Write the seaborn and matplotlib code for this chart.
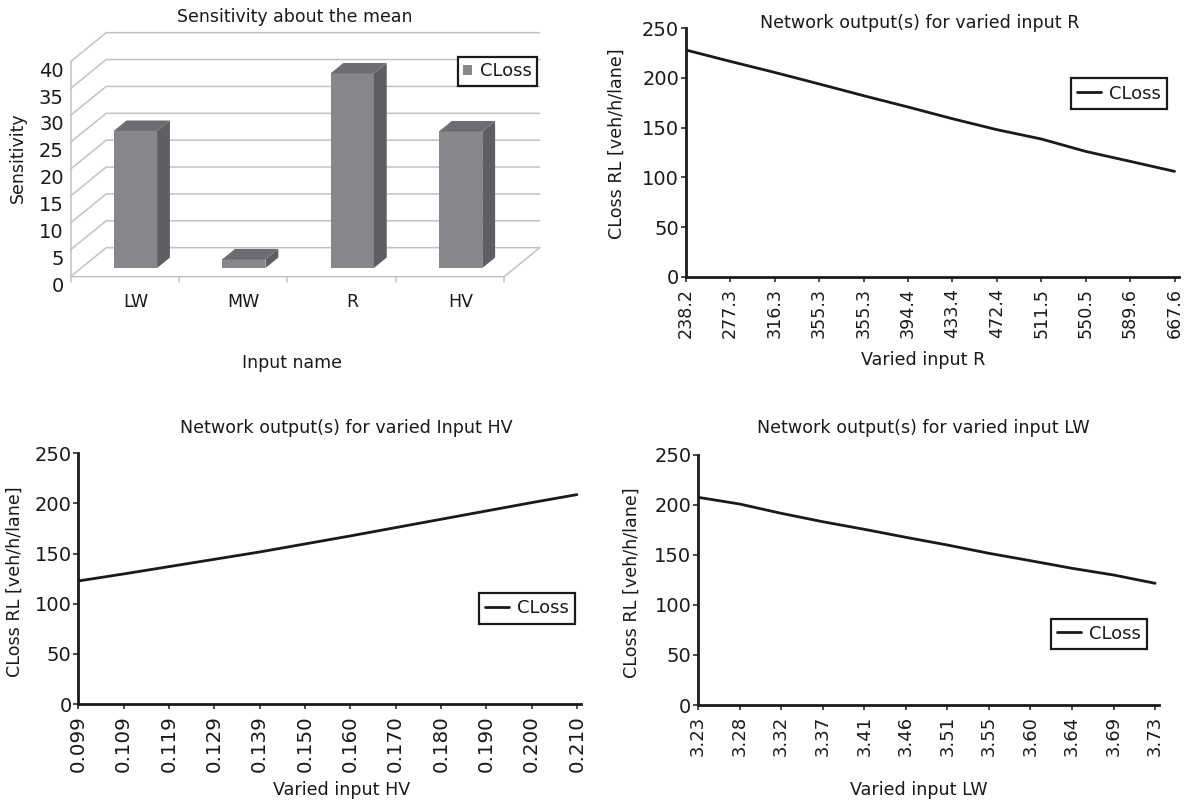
import matplotlib
matplotlib.use("Agg")
import matplotlib.pyplot as plt
from matplotlib.patches import Polygon
import numpy as np
import pandas as pd
import seaborn as sns

# ---- data ----
inputs = ["LW", "MW", "R", "HV"]
sensitivity = [25.5, 1.6, 36.2, 25.4]
sensitivity_ticks = [0, 5, 10, 15, 20, 25, 30, 35, 40]

r_labels = ["238.2", "277.3", "316.3", "355.3", "355.3", "394.4",
            "433.4", "472.4", "511.5", "550.5", "589.6", "667.6"]
r_closs = [228.2, 216.7, 205.6, 194.0, 182.2, 170.8,
           159.0, 148.0, 138.6, 126.1, 116.1, 106.0]

hv_labels = ["0.099", "0.109", "0.119", "0.129", "0.139", "0.150",
             "0.160", "0.170", "0.180", "0.190", "0.200", "0.210"]
hv_closs = [122.7, 129.7, 137.0, 144.3, 151.6, 159.6,
            167.6, 175.9, 184.2, 192.5, 200.8, 208.8]

lw_labels = ["3.23", "3.28", "3.32", "3.37", "3.41", "3.46",
             "3.51", "3.55", "3.60", "3.64", "3.69", "3.73"]
lw_closs = [207.7, 201.0, 191.7, 183.3, 175.7, 167.7,
            160.0, 151.7, 144.3, 136.7, 130.0, 121.7]

closs_ticks = [0, 50, 100, 150, 200, 250]

# ---- style ----
INK = "#1a1a1a"
FRONT = "#86878b"
SIDE = "#5e5f63"
TOP = "#6c6d71"
GRID = "#c2c2c2"

sns.set_theme(style="white")
plt.rcParams["font.family"] = ["DejaVu Sans"]
plt.rcParams["text.color"] = INK
plt.rcParams["axes.labelcolor"] = INK
plt.rcParams["xtick.color"] = INK
plt.rcParams["ytick.color"] = INK

W, H = 1184, 805
fig = plt.figure(figsize=(W / 100, H / 100), dpi=100)
fig.patch.set_facecolor("white")


def px_axes(box):
    l, t, r, b = box
    ax = fig.add_axes([l / W, 1 - b / H, (r - l) / W, (b - t) / H])
    ax.set_facecolor("none")
    return ax


def axes_frac(box, px, py):
    l, t, r, b = box
    return (px - l) / (r - l), (b - py) / (b - t)


def place_legend(ax, left, top, **kw):
    leg = ax.legend(loc="upper left", bbox_to_anchor=(left / W, 1 - top / H),
                    bbox_transform=fig.transFigure, borderaxespad=0,
                    frameon=True, fancybox=False, framealpha=1,
                    edgecolor=INK, fontsize=13, **kw)
    leg.get_frame().set_linewidth(1.6)
    return leg


def place_labels(ax, box, title, title_c, xlabel, xlabel_c, ylabel, ylabel_c, size=12.6):
    tx, ty = axes_frac(box, *title_c)
    ax.set_title(title, fontsize=size, x=tx, y=ty, pad=0, va="center")
    ax.set_xlabel(xlabel, fontsize=size)
    ax.xaxis.set_label_coords(*axes_frac(box, *xlabel_c))
    ax.xaxis.label.set_va("center")
    ax.set_ylabel(ylabel, fontsize=size)
    ax.yaxis.set_label_coords(*axes_frac(box, *ylabel_c))
    ax.yaxis.label.set_va("center")


# ---- top left: 3-D column chart ----
tl_box = (40, 5, 560, 290)
ax = px_axes(tl_box)
df = pd.DataFrame({"input": inputs, "sensitivity": sensitivity})
sns.barplot(data=df, x="input", y="sensitivity", order=inputs, color=FRONT,
            saturation=1, width=0.40, errorbar=None, linewidth=0,
            label="CLoss", zorder=3, ax=ax)

# plot area scale: first bar centre at 135.4 px, 108.4 px per category,
# bar base at 268 px, 5.375 px per unit
cx0, cxs, cy0, cys = 135.4, 108.4, 268.0, 5.375
l, t, r, b = tl_box
ax.set_xlim((l - cx0) / cxs, (r - cx0) / cxs)
ax.set_ylim((cy0 - b) / cys, (cy0 - t) / cys)

# oblique projection of the depth axis
DX, DY = 0.329, 5.4
D_FRONT, D_BACK, D_BAR = -0.3, 0.7, 0.36


def depth(x, y, d):
    return x + d * DX, y + d * DY


x_lo, x_hi = -0.5, len(inputs) - 0.5
for v in sensitivity_ticks:
    fx, fy = depth(x_lo, v, D_FRONT)
    bx, by = depth(x_lo, v, D_BACK)
    ex, _ = depth(x_hi, v, D_BACK)
    ax.plot([fx, bx, ex], [fy, by, by], color=GRID, lw=1.1, zorder=1)
    ax.annotate(str(v), (fx, fy), xytext=(-4.8, -6.8), textcoords="offset points",
                ha="right", va="center", fontsize=14, annotation_clip=False)

# side axis and floor
p0 = depth(x_lo, 0, D_FRONT)
p1 = depth(x_lo, sensitivity_ticks[-1], D_FRONT)
ax.plot([p0[0], p1[0]], [p0[1], p1[1]], color=GRID, lw=1.1, zorder=1)
q1 = depth(x_hi, 0, D_FRONT)
q2 = depth(x_hi, 0, D_BACK)
ax.plot([p0[0], q1[0], q2[0]], [p0[1], q1[1], q2[1]], color=GRID, lw=1.1, zorder=1)
for k in range(len(inputs) + 1):
    fx, fy = depth(x_lo + k, 0, D_FRONT)
    ax.plot([fx, fx], [fy, fy - 5.5 / cys], color=GRID, lw=1.1, zorder=1)

# side and top faces of each column
for p in list(ax.patches):
    x0 = p.get_x()
    x1 = x0 + p.get_width()
    y0 = p.get_y()
    h = y0 + p.get_height()
    ox, oy = D_BAR * DX, D_BAR * DY
    ax.add_patch(Polygon([(x1, y0), (x1 + ox, y0 + oy), (x1 + ox, h + oy), (x1, h)],
                         closed=True, facecolor=SIDE, edgecolor="none", zorder=3))
    ax.add_patch(Polygon([(x0, h), (x1, h), (x1 + ox, h + oy), (x0 + ox, h + oy)],
                         closed=True, facecolor=TOP, edgecolor="none", zorder=3))

for s in ax.spines.values():
    s.set_visible(False)
ax.set_yticks([])
ax.tick_params(axis="x", length=0, pad=2, labelsize=12.5)
place_labels(ax, tl_box, "Sensitivity about the mean", (295, 17),
             "Input name", (292, 363), "Sensitivity", (18, 158), size=12.5)
place_legend(ax, 458, 57, handlelength=0.5, handleheight=0.5,
             handletextpad=0.4, borderpad=0.3)


# ---- line panels ----
def sweep_panel(box, labels, values, title, title_c, xlabel, xlabel_c,
                ylabel_c, xtick_size, legend_pos):
    ax = px_axes(box)
    idx = np.arange(len(values))
    sns.lineplot(x=idx, y=values, ax=ax, color=INK, linewidth=2.0,
                 label="CLoss")
    l, t, r, b = box
    step = (r - l) / 11.1
    ax.set_xlim(0, (r - l) / step)
    ax.set_ylim(closs_ticks[0], closs_ticks[-1])
    ax.set_yticks(closs_ticks)
    ax.set_xticks(idx, labels, rotation=90)
    sns.despine(ax=ax)
    for side in ("left", "bottom"):
        ax.spines[side].set_color(INK)
        ax.spines[side].set_linewidth(2.0)
    ax.tick_params(axis="both", direction="out", length=3.8, width=1.1,
                   bottom=True, left=True, color=INK)
    ax.tick_params(axis="y", pad=1, labelsize=14)
    ax.tick_params(axis="x", pad=4, labelsize=xtick_size)
    place_labels(ax, box, title, title_c, xlabel, xlabel_c,
                 "CLoss RL [veh/h/lane]", ylabel_c)
    place_legend(ax, *legend_pos, handlelength=1.3, handletextpad=0.45,
                 borderpad=0.35)
    return ax


sweep_panel((685.8, 28.3, 1179, 276.7), r_labels, r_closs,
            "Network output(s) for varied input R", (919.5, 23),
            "Varied input R", (922.8, 360), (616.5, 144), 12.6, (1071, 78.5))

sweep_panel((78.4, 453.3, 581.4, 704), hv_labels, hv_closs,
            "Network output(s) for varied Input HV", (346.6, 428),
            "Varied input HV", (342, 790), (15, 582), 14.3, (479, 593))

sweep_panel((698, 455, 1159.3, 705), lw_labels, lw_closs,
            "Network output(s) for varied input LW", (923, 428),
            "Varied input LW", (918.6, 790), (631.7, 583), 13, (1051, 618.5))

fig.savefig("out.png", dpi=100, facecolor="white")
